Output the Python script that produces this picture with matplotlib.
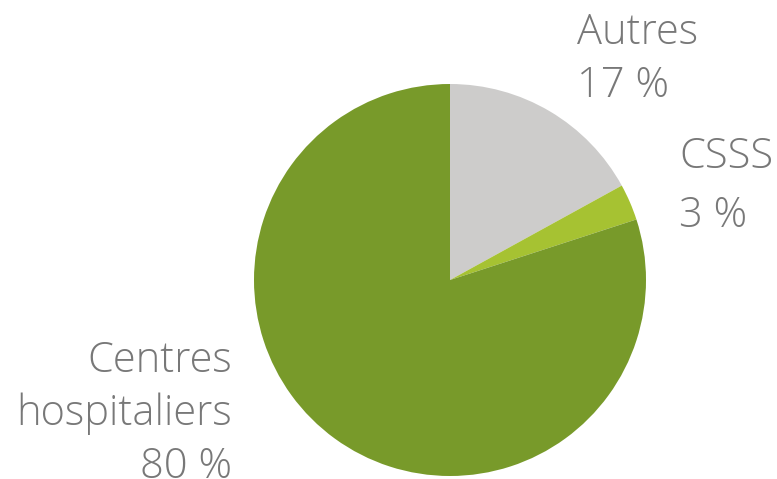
import matplotlib.pyplot as plt

labels = ["Autres", "CSSS", "Centres\nhospitaliers"]
values = [17, 3, 80]
colors = ["#cdcccb", "#a6c232", "#789a2a"]

W, H = 777, 479
fig = plt.figure(figsize=(W / 100, H / 100), dpi=100)

#pie centre and radius in pixels
cx, cy, r = 450, 280, 196
ax = fig.add_axes([(cx - r) / W, (H - cy - r) / H, 2 * r / W, 2 * r / H])
ax.pie(values, colors=colors, startangle=90, counterclock=False,
       wedgeprops=dict(linewidth=0))
ax.set_aspect("equal")
ax.set_xlim(-1, 1)
ax.set_ylim(-1, 1)

txt = dict(fontsize=30, color="#787878", family="Open Sans", fontweight=300)

#label positions (left/right x, baseline y of first line, alignment)
places = [(577, 44, "left"), (679, 168, "left"), (232, 372, "right")]
for lab, v, (x, y, ha) in zip(labels, values, places):
    lines = lab.split("\n") + [f"{v} %"]
    step = 53 if ha != "left" or x < 600 else 59
    for i, line in enumerate(lines):
        fig.text(x / W, (H - y - i * step) / H, line, ha=ha, va="baseline", **txt)

fig.savefig("out.png", dpi=100)
